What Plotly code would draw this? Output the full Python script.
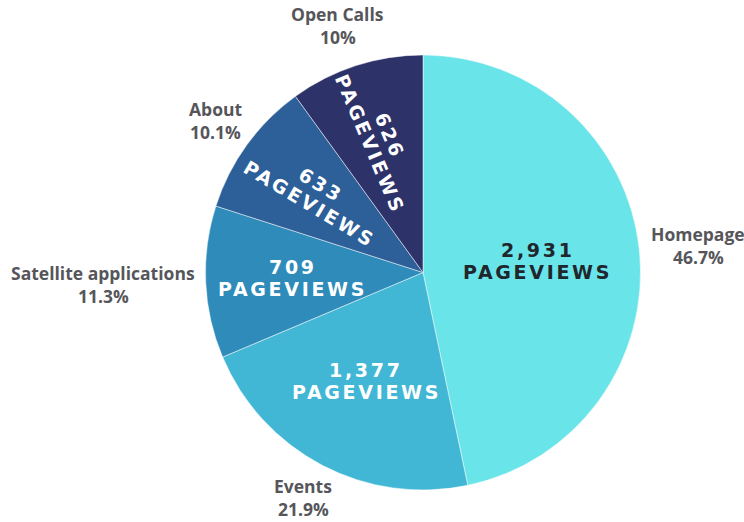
import math
import plotly.graph_objects as go

categories = ["Homepage", "Events", "Satellite applications", "About", "Open Calls"]
pageviews = [2931, 1377, 709, 633, 626]
percent_labels = ["46.7%", "21.9%", "11.3%", "10.1%", "10%"]
value_labels = ["2,931", "1,377", "709", "633", "626"]
colors = ["#69E4E8", "#42B7D5", "#2E8BBA", "#2D5F98", "#2D3269"]
inside_colors = ["#1F262C", "#FFFFFF", "#FFFFFF", "#FFFFFF", "#FFFFFF"]

# styling for the in-slice labels
label_radius = [0.53, 0.565, 0.60, 0.61, 0.64]  # fraction of pie radius
radial_text = [False, False, False, True, True]

W, H = 744, 522
CX, CY, R = 423, 272.5, 217.5  # pie centre and radius in pixels
domain = dict(x=[(CX - R) / W, (CX + R) / W], y=[1 - (CY + R) / H, 1 - (CY - R) / H])

fig = go.Figure()
fig.add_trace(go.Pie(
    labels=categories, values=pageviews, sort=False, direction="clockwise",
    rotation=0, domain=domain, hoverinfo="skip", showlegend=False,
    marker=dict(colors=colors, line=dict(color="rgba(255,255,255,0.6)", width=0.8)),
    textinfo="none",
))

# approximate glyph widths (em) of Open Sans Bold, used to place outside labels
EM = {"H": .74, "o": .62, "m": .96, "e": .59, "p": .63, "a": .59, "g": .56, "E": .52,
      "v": .56, "n": .63, "t": .41, "s": .50, "S": .55, "l": .29, "i": .29, "c": .51,
      "A": .69, "b": .63, "u": .63, "O": .78, "C": .63, " ": .26, "%": .89, ".": .28}


def text_width(s, size):
    return sum(EM.get(ch, .57) for ch in s) * size


def px_to_paper(x, y):
    return x / W, 1 - y / H


FS = 17.5
LINE = 23
GAP = 13
VHALF = 29
IFS = 19
ILINE = 22
SPACING = "letter-spacing:2.7px"

total = sum(pageviews)
cum = 0
for i, (name, pct, v) in enumerate(zip(categories, percent_labels, pageviews)):
    mid_deg = (cum + v / 2) / total * 360
    cum += v
    mid = math.radians(mid_deg)
    dx, dy = math.sin(mid), -math.cos(mid)

    # outside label (name + percentage), kept inside the canvas
    w = max(text_width(name, FS), text_width(pct, FS))
    bx = CX + (R + GAP) * dx + dx * w / 2
    by = CY + (R + GAP) * dy + dy * VHALF
    by = min(max(by, 14 + LINE / 2), H - 13 - LINE / 2)
    for txt, oy in ((name, -LINE / 2), (pct, LINE / 2)):
        x, y = px_to_paper(bx, by + oy)
        fig.add_annotation(
            x=x, y=y, xref="paper", yref="paper", text=f"<b>{txt}</b>",
            showarrow=False, xanchor="center", yanchor="middle",
            font=dict(family="Open Sans", size=FS, color="#56565A"),
        )

    # inside label (value + PAGEVIEWS)
    r = label_radius[i] * R
    ix, iy = CX + r * dx, CY + r * dy
    angle = (mid_deg - 270 - 5) if radial_text[i] else 0
    a = math.radians(angle)
    ndx, ndy = -math.sin(a), math.cos(a)  # "down" direction of the rotated text
    for txt, off in ((value_labels[i], -ILINE / 2), ("PAGEVIEWS", ILINE / 2)):
        x, y = px_to_paper(ix + ndx * off, iy + ndy * off)
        fig.add_annotation(
            x=x, y=y, xref="paper", yref="paper",
            text=f"<b><span style='{SPACING}'>{txt}</span></b>",
            showarrow=False, xanchor="center", yanchor="middle", textangle=angle,
            font=dict(family="DejaVu Sans", size=IFS, color=inside_colors[i]),
        )

fig.update_layout(
    width=W, height=H,
    margin=dict(l=0, r=0, t=0, b=0),
    paper_bgcolor="white", plot_bgcolor="white",
)
fig.write_html("out.html")
